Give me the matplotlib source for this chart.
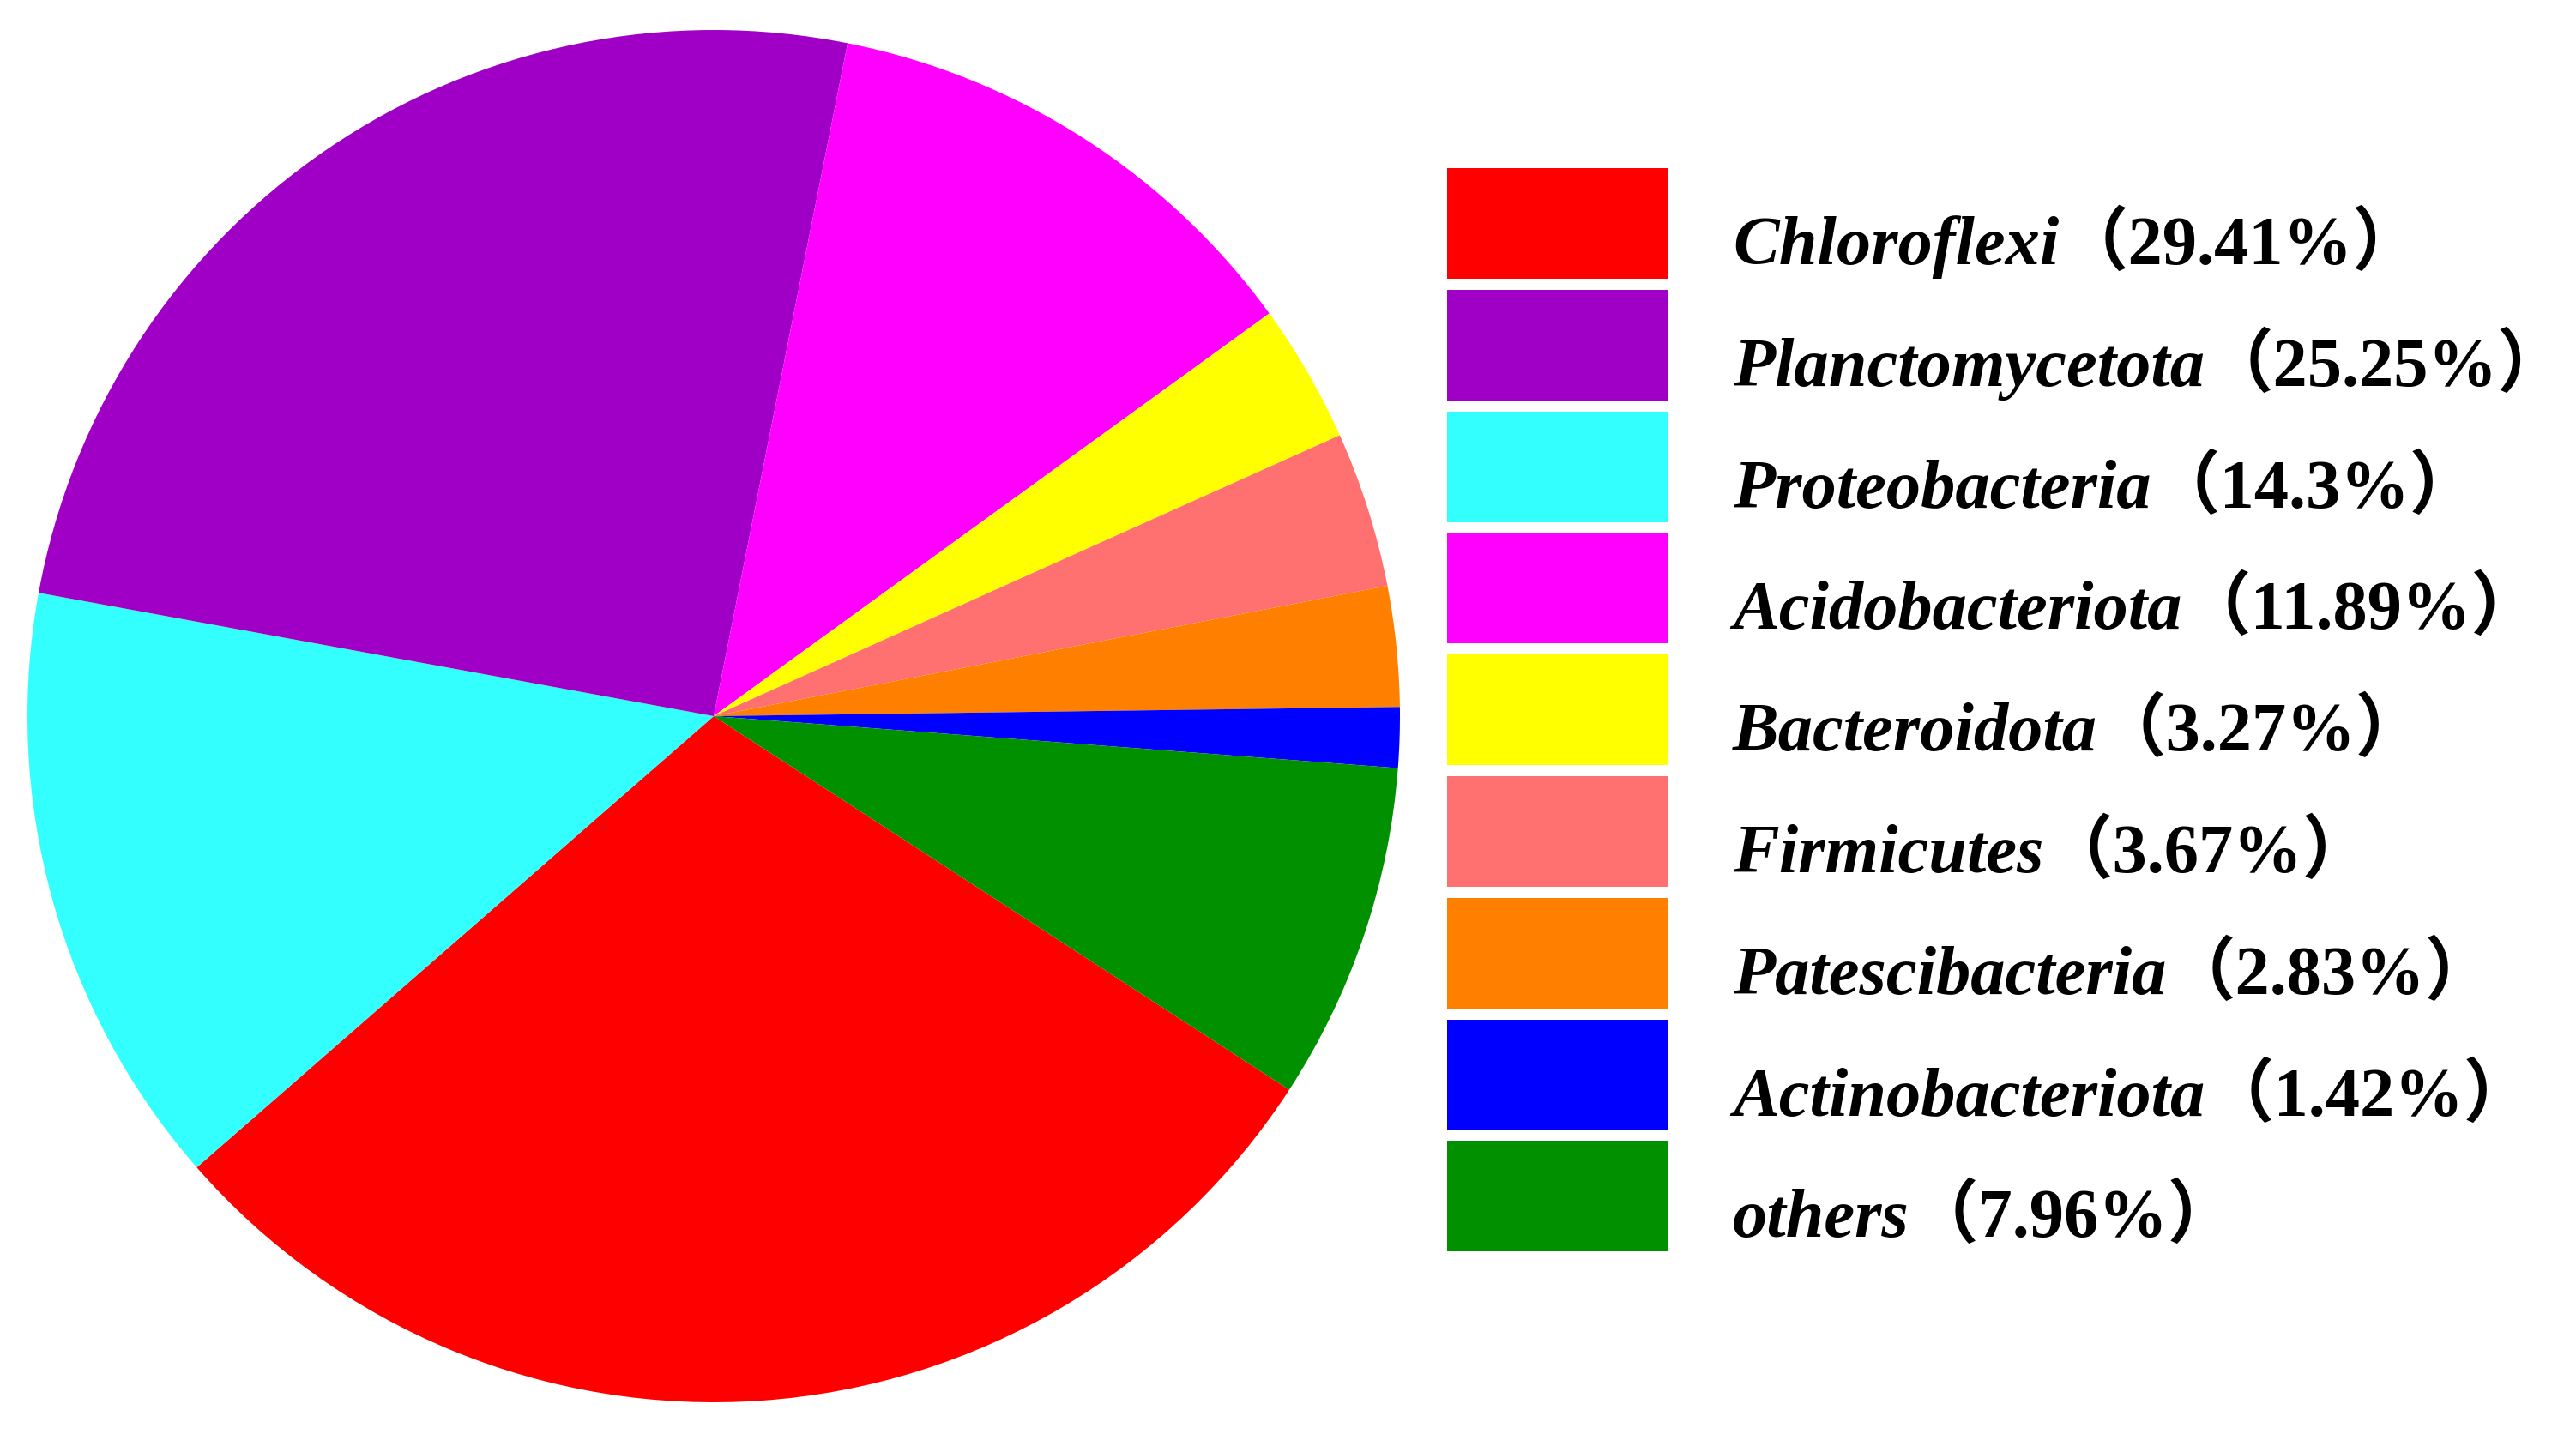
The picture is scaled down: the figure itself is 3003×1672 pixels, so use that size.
import matplotlib.pyplot as plt
from matplotlib.patches import Rectangle

# wedges in the order they appear clockwise on the pie
pie_names = ["Chloroflexi", "Proteobacteria", "Planctomycetota", "Acidobacteriota",
             "Bacteroidota", "Firmicutes", "Patescibacteria", "Actinobacteriota", "others"]
pie_values = [29.41, 14.3, 25.25, 11.89, 3.27, 3.67, 2.83, 1.42, 7.96]

# legend order
legend_names = ["Chloroflexi", "Planctomycetota", "Proteobacteria", "Acidobacteriota",
                "Bacteroidota", "Firmicutes", "Patescibacteria", "Actinobacteriota", "others"]

colors = {
    "Chloroflexi": "#FF0000",
    "Planctomycetota": "#A000C6",
    "Proteobacteria": "#33FFFF",
    "Acidobacteriota": "#FF00FF",
    "Bacteroidota": "#FFFF00",
    "Firmicutes": "#FF7070",
    "Patescibacteria": "#FF8000",
    "Actinobacteriota": "#0000FF",
    "others": "#009000",
}

W, H = 3003, 1672
fig = plt.figure(figsize=(W / 100, H / 100), dpi=100)

# pie: centre ~(832, 835) px, radius ~800 px
cx, cy, r = 832, 835, 800
ax = fig.add_axes([(cx - r) / W, (H - cy - r) / H, 2 * r / W, 2 * r / H])
ax.pie(pie_values, colors=[colors[n] for n in pie_names], startangle=-33,
       counterclock=False, radius=1, wedgeprops=dict(linewidth=0))
ax.set_xlim(-1, 1)
ax.set_ylim(-1, 1)
ax.set_aspect('equal')
ax.axis('off')

vals = dict(zip(pie_names, pie_values))

# hand-built legend in pixel coords
box_x, box_w, box_h = 1687, 257, 129
top0, pitch = 196, 141.8
text_x = 2020
fs = 58

fig.canvas.draw()
renderer = fig.canvas.get_renderer()
for i, name in enumerate(legend_names):
    top = top0 + i * pitch
    fig.add_artist(Rectangle((box_x / W, 1 - (top + box_h) / H), box_w / W, box_h / H,
                             transform=fig.transFigure, facecolor=colors[name],
                             edgecolor='none'))
    base = 1 - (top + 112) / H
    t = fig.text(text_x / W, base, name, fontsize=fs, fontweight='bold',
                 fontstyle='italic', family='Liberation Serif', va='baseline')
    bb = t.get_window_extent(renderer)
    fig.text(bb.x1 / W, base, f"（{vals[name]:g}%）", fontsize=fs, fontweight='bold',
             family=['Liberation Serif', 'Noto Sans CJK SC'], va='baseline')

fig.savefig("out.png", dpi=100)
